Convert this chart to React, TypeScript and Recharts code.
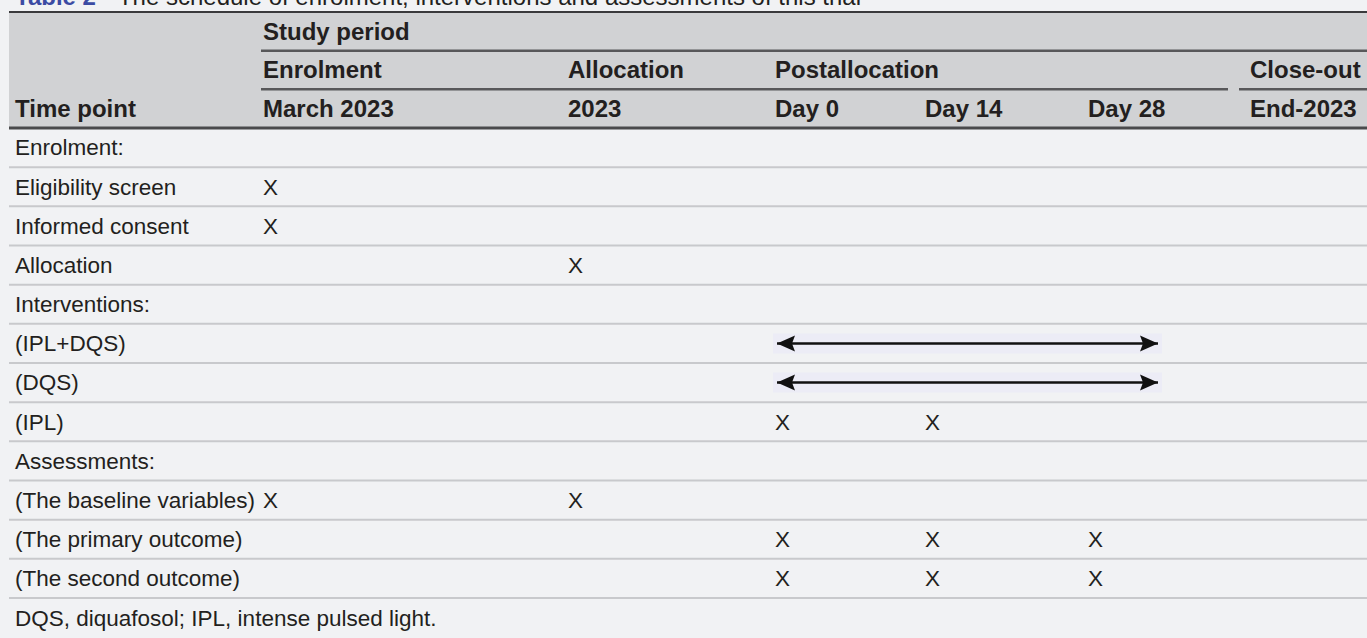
import React from 'react'
import { ComposedChart, XAxis, YAxis, Scatter, ReferenceArea, ReferenceLine } from 'recharts'

// table content
const tableNo = 'Table 2'
const caption = 'The schedule of enrolment, interventions and assessments of this trial'
const periodLabel = 'Study period'
const phaseLabels = ['Enrolment', 'Allocation', 'Postallocation', '', '', 'Close-out']
const timePoints = ['March 2023', '2023', 'Day 0', 'Day 14', 'Day 28', 'End-2023']
const rowLabels = [
  'Enrolment:',
  'Eligibility screen',
  'Informed consent',
  'Allocation',
  'Interventions:',
  '(IPL+DQS)',
  '(DQS)',
  '(IPL)',
  'Assessments:',
  '(The baseline variables)',
  '(The primary outcome)',
  '(The second outcome)',
]
// [row, time point] pairs marked with X
const marks = [
  [1, 0], [2, 0], [3, 1],
  [7, 2], [7, 3],
  [9, 0], [9, 1],
  [10, 2], [10, 3], [10, 4],
  [11, 2], [11, 3], [11, 4],
]
// [row, from time point, to time point]
const arrows = [
  [5, 2, 4],
  [6, 2, 4],
]
const footnote = 'DQS, diquafosol; IPL, intense pulsed light.'

// layout
const W = 1367
const H = 638
const LEFT = 9
const TOP = 12
const HEAD_ROW = 38.67
const HEAD_BOTTOM = 128
const BODY_ROW = 39.17
const colX = [15, 263, 568, 775, 925, 1088, 1250]
const ARROW_START = 2
const ARROW_OVER = 70
const FONT = "'Liberation Sans', Arial, Helvetica, sans-serif"
const INK = '#231f20'

const headY = (r: number) => TOP + HEAD_ROW * (r + 0.5)
const bodyY = (r: number) => HEAD_BOTTOM + BODY_ROW * (r + 0.5)
const bodyLine = (k: number) => HEAD_BOTTOM + BODY_ROW * k
const footY = bodyLine(rowLabels.length) + 20

const headerCells = [
  { x: colX[1], y: headY(0), text: periodLabel },
  ...phaseLabels.map((t, i) => ({ x: colX[i + 1], y: headY(1), text: t })).filter(c => c.text),
  { x: colX[0], y: headY(2), text: 'Time point' },
  ...timePoints.map((t, i) => ({ x: colX[i + 1], y: headY(2), text: t })),
]
const bodyCells = [
  ...rowLabels.map((t, i) => ({ x: colX[0], y: bodyY(i), text: t })),
  { x: colX[0], y: footY, text: footnote },
]
const markCells = marks.map(([r, c]) => ({ x: colX[c + 1], y: bodyY(r), text: 'X' }))

const TextCell = (bold: boolean, size: number) => (p: any) => (
  <text
    x={p.cx}
    y={p.cy}
    dy="0.35em"
    fontFamily={FONT}
    fontSize={size}
    fontWeight={bold ? 700 : 400}
    fill={INK}
  >
    {p.payload.text}
  </text>
)

const ArrowHead = (p: any) => {
  const dir = p.payload.end ? 1 : -1
  const tip = p.cx
  const base = tip - dir * 18
  return (
    <path
      d={`M${tip},${p.cy} L${base},${p.cy - 8} L${base + dir * 3},${p.cy} L${base},${p.cy + 8} Z`}
      fill="#111"
    />
  )
}

export default function App() {
  return (
    <div style={{ width: W, height: H, background: '#f1f2f4', position: 'absolute', left: 0, top: 0 }}>
      <ComposedChart width={W} height={H} margin={{ top: 0, right: 0, bottom: 0, left: 0 }}>
        <XAxis type="number" dataKey="x" domain={[0, W]} hide allowDataOverflow />
        <YAxis type="number" dataKey="y" domain={[0, H]} reversed hide allowDataOverflow />

        <ReferenceArea x1={LEFT} x2={W} y1={TOP} y2={HEAD_BOTTOM} fill="#d1d2d4" fillOpacity={1} stroke="none" />
        {arrows.map(([r], i) => (
          <ReferenceArea
            key={`band-${i}`}
            x1={colX[3] - 2}
            x2={colX[5] + ARROW_OVER + 4}
            y1={bodyY(r) - 10}
            y2={bodyY(r) + 10}
            fill="#ececf6"
            fillOpacity={1}
            stroke="none"
          />
        ))}

        <ReferenceLine segment={[{ x: LEFT, y: TOP }, { x: W, y: TOP }]} stroke="#3a3a3c" strokeWidth={2} />
        <ReferenceLine segment={[{ x: colX[1] - 2, y: TOP + HEAD_ROW }, { x: W, y: TOP + HEAD_ROW }]} stroke="#58585a" strokeWidth={2.5} />
        <ReferenceLine segment={[{ x: colX[1] - 2, y: TOP + HEAD_ROW * 2 }, { x: colX[6] - 22, y: TOP + HEAD_ROW * 2 }]} stroke="#58585a" strokeWidth={2.5} />
        <ReferenceLine segment={[{ x: colX[6] - 11, y: TOP + HEAD_ROW * 2 }, { x: W, y: TOP + HEAD_ROW * 2 }]} stroke="#58585a" strokeWidth={2.5} />
        <ReferenceLine segment={[{ x: LEFT, y: HEAD_BOTTOM }, { x: W, y: HEAD_BOTTOM }]} stroke="#4a4a4c" strokeWidth={3} />
        {rowLabels.map((_, k) => (
          <ReferenceLine
            key={`rl-${k}`}
            segment={[{ x: LEFT, y: bodyLine(k + 1) }, { x: W, y: bodyLine(k + 1) }]}
            stroke="#c8c9cc"
            strokeWidth={2}
          />
        ))}

        {arrows.map(([r, a, b], i) => (
          <Scatter
            key={`arrow-${i}`}
            data={[
              { x: colX[a + 1] + ARROW_START, y: bodyY(r), end: false },
              { x: colX[b + 1] + ARROW_OVER, y: bodyY(r), end: true },
            ]}
            line={{ stroke: '#111', strokeWidth: 2.5 }}
            lineType="joint"
            shape={ArrowHead}
            isAnimationActive={false}
          />
        ))}

        <Scatter data={headerCells} shape={TextCell(true, 24)} isAnimationActive={false} />
        <Scatter data={bodyCells} shape={TextCell(false, 22.5)} isAnimationActive={false} />
        <Scatter data={markCells} shape={TextCell(false, 22.5)} isAnimationActive={false} />

        <Scatter
          data={[{ x: colX[0], y: 5 }]}
          shape={(p: any) => (
            <text x={p.cx} y={p.cy} fontFamily={FONT} fontSize={24}>
              <tspan fill="#3b4ba3" fontWeight={700}>{tableNo}</tspan>
              <tspan fill={INK} dx={22}>{caption}</tspan>
            </text>
          )}
          isAnimationActive={false}
        />
      </ComposedChart>
    </div>
  )
}
